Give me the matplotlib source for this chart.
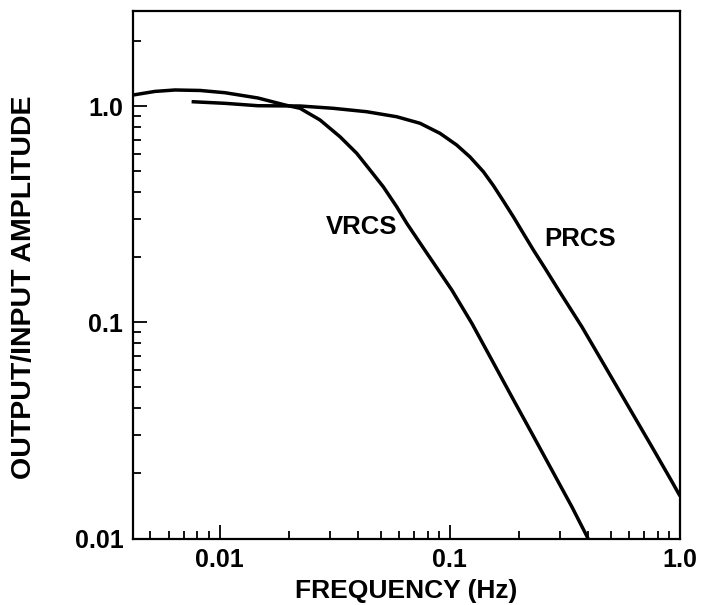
import numpy as np
import matplotlib
matplotlib.use("Agg")
import matplotlib.pyplot as plt
from matplotlib.ticker import FixedLocator, NullFormatter

# values (log-log frequency response)
vrcs_freq = [0.00420, 0.00523, 0.00639, 0.00821, 0.01054, 0.01466, 0.01921,
             0.02233, 0.02727, 0.03331, 0.03937, 0.04498, 0.05138, 0.05875,
             0.06494, 0.07545, 0.08768, 0.1020, 0.1246, 0.1522, 0.1859,
             0.2271, 0.2774, 0.3388, 0.3986]
vrcs_amp = [1.124, 1.168, 1.186, 1.180, 1.152, 1.089, 1.011,
            0.976, 0.862, 0.721, 0.6045, 0.506, 0.423, 0.342,
            0.287, 0.2264, 0.1788, 0.1409, 0.0989, 0.0669, 0.0452,
            0.03066, 0.02074, 0.01403, 0.0100]

prcs_freq = [0.00755, 0.01054, 0.01466, 0.02233, 0.03106, 0.04351, 0.05875,
             0.07419, 0.09062, 0.1071, 0.1224, 0.1398, 0.1545, 0.1708,
             0.1887, 0.2085, 0.2306, 0.2592, 0.2967, 0.3747, 0.4733,
             0.5974, 0.7546, 0.9218, 1.0]
prcs_amp = [1.047, 1.029, 1.003, 1.000, 0.976, 0.941, 0.892,
            0.832, 0.7475, 0.660, 0.581, 0.497, 0.4289, 0.3636,
            0.3076, 0.2578, 0.2159, 0.1776, 0.1409, 0.0953, 0.0623,
            0.0407, 0.02657, 0.01835, 0.01572]

x_ticks = [0.01, 0.1, 1.0]
x_labels = ["0.01", "0.1", "1.0"]
y_ticks = [0.01, 0.1, 1.0]
y_labels = ["0.01", "0.1", "1.0"]
minor_ticks = [m * 10.0 ** e for e in range(-3, 1) for m in range(2, 10)]

plt.rcParams['font.family'] = ['Liberation Sans', 'DejaVu Sans']
plt.rcParams['font.weight'] = 'bold'

fig = plt.figure(figsize=(7.02, 6.05), dpi=100)
ax = fig.add_axes([133 / 702, 1 - 538.5 / 605, (680 - 133) / 702, (538.5 - 11) / 605])

for xs, ys in [(vrcs_freq, vrcs_amp), (prcs_freq, prcs_amp)]:
    ax.plot(xs, ys, color="black", lw=2.5, solid_capstyle="butt",
            solid_joinstyle="round")

ax.set_xscale("log")
ax.set_yscale("log")
ax.set_xlim(0.0042, 1.0)
ax.set_ylim(0.01, 2.75)

for sp in ax.spines.values():
    sp.set_linewidth(1.6)
    sp.set_color("black")

ax.xaxis.set_major_locator(FixedLocator(x_ticks))
ax.set_xticklabels(x_labels)
ax.yaxis.set_major_locator(FixedLocator(y_ticks))
ax.set_yticklabels(y_labels)
ax.xaxis.set_minor_locator(FixedLocator(minor_ticks))
ax.yaxis.set_minor_locator(FixedLocator(minor_ticks))
ax.xaxis.set_minor_formatter(NullFormatter())
ax.yaxis.set_minor_formatter(NullFormatter())

ax.tick_params(which="both", direction="in", top=False, right=False,
               width=1.3, color="black")
ax.tick_params(which="major", length=10, labelsize=18, pad=7)
ax.tick_params(which="minor", length=5.5)

ax.set_xlabel("FREQUENCY (Hz)", fontsize=19, fontweight="bold", labelpad=5)
ax.set_ylabel("OUTPUT/INPUT AMPLITUDE", fontsize=20.5, fontweight="bold")
ax.yaxis.set_label_coords(-0.175, 0.477)

ax.text(0.0415, 0.275, "VRCS", fontsize=18.5, fontweight="bold", ha="center", va="center")
ax.text(0.368, 0.242, "PRCS", fontsize=18.5, fontweight="bold", ha="center", va="center")

fig.savefig("out.png", dpi=100)
